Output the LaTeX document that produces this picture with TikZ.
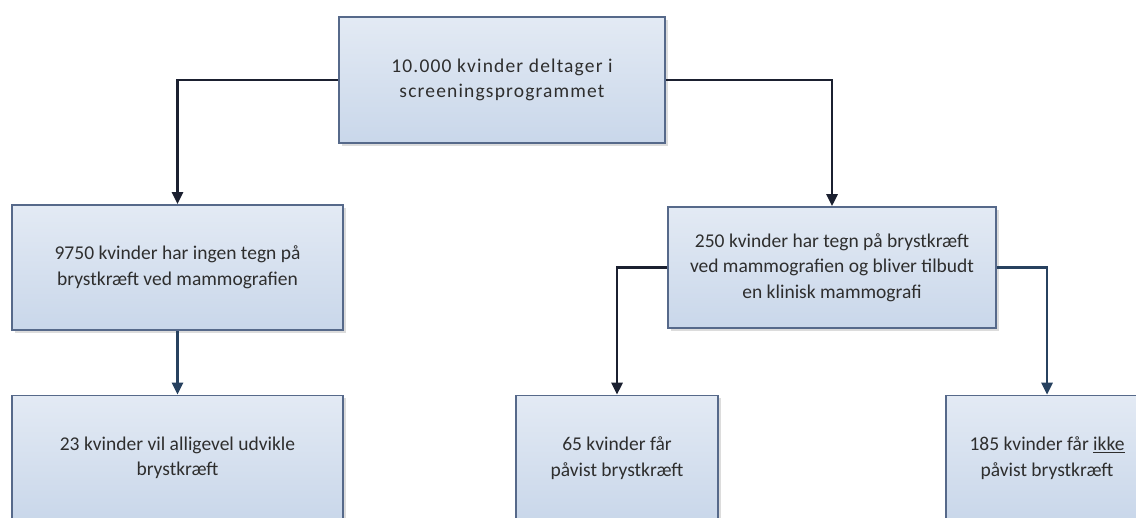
\documentclass[tikz,border=0pt]{standalone}
\usepackage{fontspec}
\setmainfont{Carlito}
\usetikzlibrary{arrows.meta,shadows}
\definecolor{boxline}{HTML}{56698A}
\definecolor{boxtop}{HTML}{E3EAF4}
\definecolor{boxbot}{HTML}{C9D7EA}
\definecolor{txt}{HTML}{2E2E2E}
\definecolor{conndark}{HTML}{1B2030}
\definecolor{connblue}{HTML}{27415F}
\tikzset{
  flowbox/.style={draw=boxline, line width=1.6pt, top color=boxtop, bottom color=boxbot,
    text=txt, align=center, font=\fontsize{19.5}{25.5}\selectfont, inner sep=0pt,
    drop shadow={shadow xshift=3pt, shadow yshift=-3pt, fill=gray!45, opacity=0.6}},
  connector/.style={draw=#1, line width=2.6pt, -{Triangle[length=12pt,width=11pt]}},
  connector/.default=conndark
}
\begin{document}
\begin{tikzpicture}[x=1pt,y=-1pt]
\useasboundingbox (0,0) rectangle (1136,518);
\clip (0,0) rectangle (1136,518);
\fill[white] (0,0) rectangle (1136,518);
\node[flowbox, minimum width=326pt, minimum height=126pt,
  font=\fontsize{19.5}{25.5}\selectfont\addfontfeature{LetterSpace=6}] (top) at (502,80)
  {10.000 kvinder deltager i\\screeningsprogrammet};
\node[flowbox, minimum width=331pt, minimum height=125pt] (L1) at (177.5,267.5)
  {9750 kvinder har ingen tegn på\\brystkræft ved mammografien};
\node[flowbox, minimum width=328pt, minimum height=121pt] (R1) at (832,267.5)
  {250 kvinder har tegn på brystkræft\\ved mammografien og bliver tilbudt\\en klinisk mammografi};
\node[flowbox, minimum width=331pt, minimum height=125pt] (B1) at (177.5,458)
  {23 kvinder vil alligevel udvikle\\brystkræft};
\node[flowbox, minimum width=202pt, minimum height=125pt] (B2) at (617,458)
  {65 kvinder får\\påvist brystkræft};
\node[flowbox, minimum width=202pt, minimum height=125pt] (B3) at (1047,458)
  {185 kvinder får \underline{ikke}\\påvist brystkræft};
\draw[connector] (top.west) -| (L1.north);
\draw[connector] (top.east) -| (R1.north);
\draw[connector=connblue] (L1.south) -- (B1.north);
\draw[connector] (R1.west) -| (B2.north);
\draw[connector=connblue] (R1.east) -| (B3.north);
\end{tikzpicture}
\end{document}
